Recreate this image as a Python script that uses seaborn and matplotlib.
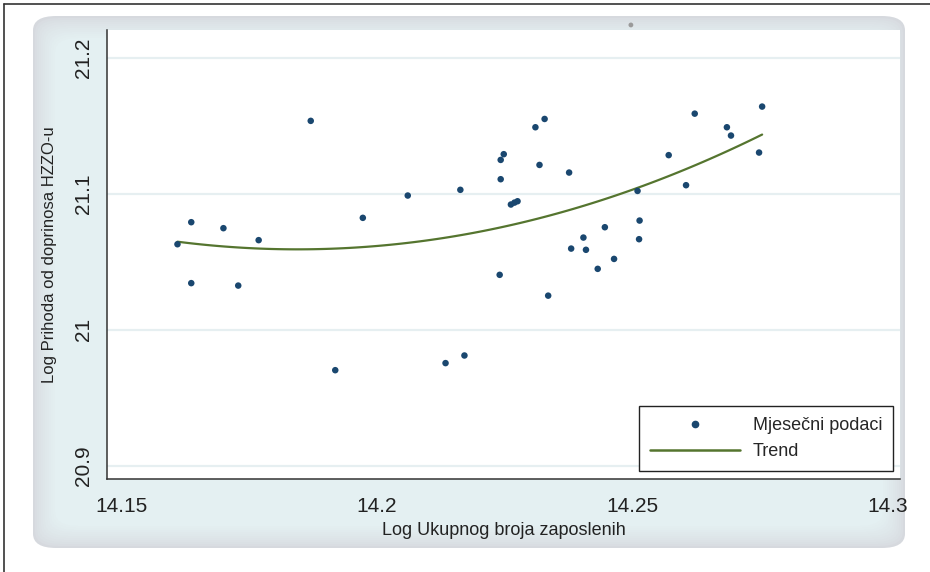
import numpy as np
import pandas as pd
import matplotlib
matplotlib.use("Agg")
import matplotlib.pyplot as plt
import seaborn as sns
from matplotlib.patches import FancyBboxPatch
from matplotlib.lines import Line2D

# mjesecni podaci (log zaposleni, log prihod)
log_zaposleni = [14.1609, 14.1636, 14.1699, 14.1768, 14.1870, 14.1972, 14.2060, 14.2163,
                 14.1636, 14.1728, 14.1918, 14.2134, 14.2171, 14.2335, 14.2240, 14.2242,
                 14.2242, 14.2248, 14.2262, 14.2269, 14.2275, 14.2310, 14.2328, 14.2318,
                 14.2376, 14.2380, 14.2404, 14.2409, 14.2446, 14.2432, 14.2464, 14.2510,
                 14.2514, 14.2513, 14.2571, 14.2605, 14.2622, 14.2685, 14.2693, 14.2754,
                 14.2748]
log_prihod = [21.0628, 21.0790, 21.0746, 21.0658, 21.1535, 21.0822, 21.0986, 21.1028,
              21.0342, 21.0324, 20.9702, 20.9754, 20.9810, 21.0250, 21.0403, 21.1106,
              21.1248, 21.1290, 21.0920, 21.0934, 21.0944, 21.1488, 21.1549, 21.1211,
              21.1155, 21.0596, 21.0677, 21.0587, 21.0753, 21.0447, 21.0520, 21.1020,
              21.0802, 21.0665, 21.1283, 21.1062, 21.1588, 21.1488, 21.1427, 21.1640,
              21.1302]
# tocka iznad grafa (siva)
izvan_x = [14.2497]
izvan_y = [21.224]

x_ticks = [14.15, 14.2, 14.25, 14.3]
x_labels = ["14.15", "14.2", "14.25", "14.3"]
y_ticks = [20.9, 21.0, 21.1, 21.2]
y_labels = ["20.9", "21", "21.1", "21.2"]

df = pd.DataFrame({"x": log_zaposleni, "y": log_prihod})

sns.set_style("white")
plt.rcParams["font.family"] = ["Liberation Sans", "DejaVu Sans"]

W, H = 930, 572
fig = plt.figure(figsize=(W / 100, H / 100), dpi=100)
fig.patch.set_facecolor("white")

# okvir slike (gore i lijevo)
fig.add_artist(Line2D([4 / W, 4 / W], [0, 1 - 4 / H], color="#333333", lw=1.2))
fig.add_artist(Line2D([4 / W, 1], [1 - 4 / H, 1 - 4 / H], color="#333333", lw=1.2))

# panel sa sjenom
x0, y0, x1, y1 = 33, 16, 905, 548
layers = 12
for i in range(layers):
    t = (i / (layers - 1)) ** 0.7
    inset = i * 2.0
    c_out = np.array([0.84, 0.85, 0.87])
    c_in = np.array([0.895, 0.94, 0.948])
    col = c_out * (1 - t) + c_in * t
    p = FancyBboxPatch(((x0 + inset) / W, 1 - (y1 - inset) / H),
                       (x1 - x0 - 2 * inset) / W, (y1 - y0 - 2 * inset) / H,
                       boxstyle="round,pad=0,rounding_size=0.025",
                       transform=fig.transFigure, facecolor=col, edgecolor="none",
                       zorder=0)
    fig.add_artist(p)

ax = fig.add_axes([107 / W, 1 - 479 / H, (900 - 107) / W, (479 - 30) / H])
ax.set_facecolor("white")

sns.scatterplot(data=df, x="x", y="y", ax=ax, color="#1a476f", s=22,
                edgecolor="none", zorder=3)
sns.regplot(data=df, x="x", y="y", ax=ax, order=2, ci=None, scatter=False,
            truncate=True, line_kws={"color": "#55752f", "lw": 1.6, "zorder": 2})
ax.scatter(izvan_x, izvan_y, color="#9a9a9a", s=12, clip_on=False, zorder=3,
           edgecolor="none")

ax.set_xlim(14.1471, 14.3024)
ax.set_ylim(20.8902, 21.2203)
ax.set_xticks(x_ticks, x_labels)
ax.set_yticks(y_ticks, y_labels)
ax.tick_params(axis="both", direction="out", length=7, width=1, color="#333333",
               labelsize=15, labelcolor="#222222")
ax.tick_params(axis="y", pad=3)
ax.tick_params(axis="x", pad=6)
for lab in ax.get_yticklabels():
    lab.set_rotation(90)
    lab.set_va("center")
ax.yaxis.grid(True, color="#e6eff1", lw=1.6)
ax.xaxis.grid(False)
ax.set_axisbelow(True)

for s in ["top", "right"]:
    ax.spines[s].set_visible(False)
for s in ["left", "bottom"]:
    ax.spines[s].set_color("#333333")
    ax.spines[s].set_linewidth(1.1)

ax.set_xlabel("Log Ukupnog broja zaposlenih", fontsize=13, color="#222222",
              labelpad=4)
ax.set_ylabel("Log Prihoda od doprinosa HZZO-u", fontsize=12, color="#222222",
              labelpad=12)

handles = [Line2D([], [], marker="o", ls="none", color="#1a476f", markersize=4.5),
           Line2D([], [], color="#55752f", lw=1.8)]
leg = ax.legend(handles, ["Mjesečni podaci", "Trend"], loc="lower right",
                bbox_to_anchor=(0.991, 0.018), fontsize=13, frameon=True,
                fancybox=False, edgecolor="#222222", framealpha=1,
                handlelength=5.0, handletextpad=0.7, labelspacing=0.5,
                borderpad=0.6, borderaxespad=0)
leg.get_frame().set_linewidth(1.0)

fig.savefig("out.png", dpi=100)
